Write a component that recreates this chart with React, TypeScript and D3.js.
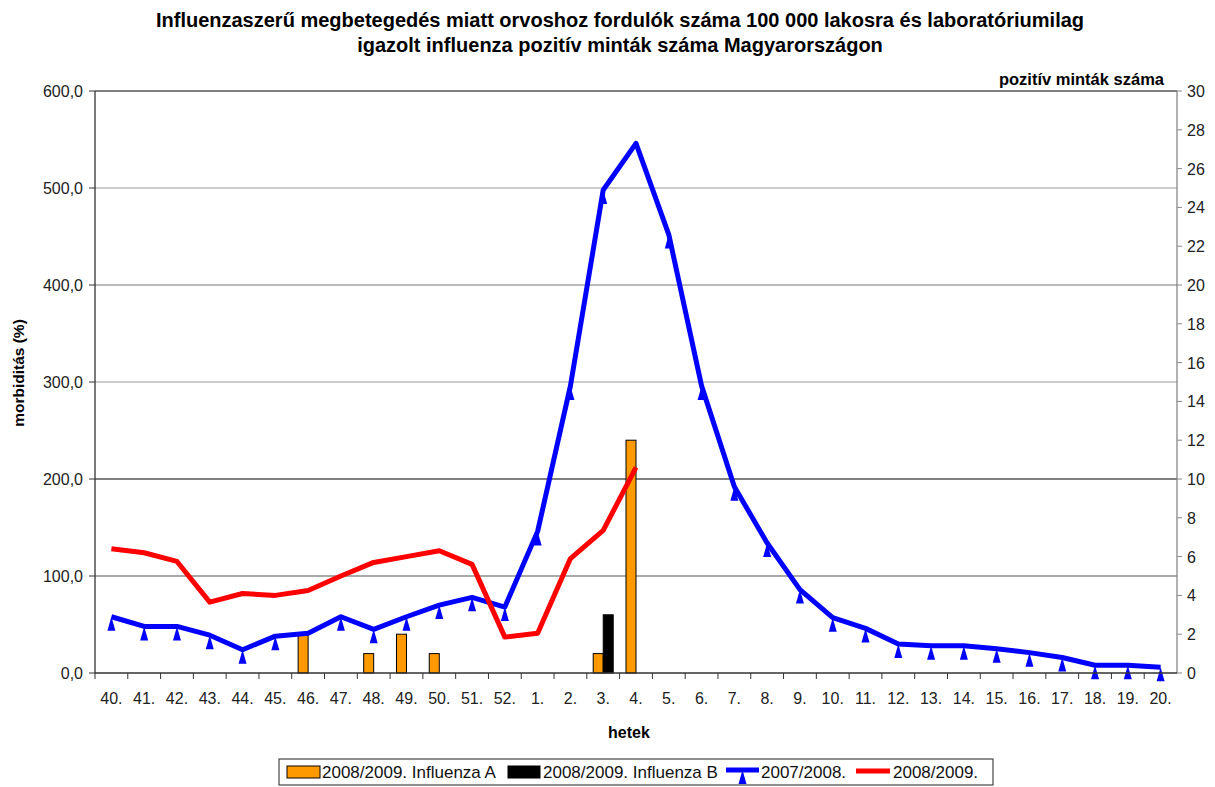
import React, { useEffect } from 'react';
import * as d3 from 'd3';

// weeks 40. .. 52., 1. .. 20.
const weeks = [
  '40.', '41.', '42.', '43.', '44.', '45.', '46.', '47.', '48.', '49.', '50.', '51.', '52.',
  '1.', '2.', '3.', '4.', '5.', '6.', '7.', '8.', '9.', '10.', '11.', '12.', '13.', '14.',
  '15.', '16.', '17.', '18.', '19.', '20.',
];

// morbidity per 100 000, season 2007/2008 (all weeks)
const morb0708 = [
  58, 48, 48, 39, 24, 38, 41, 58, 45, 58, 70, 78, 68,
  146, 296, 498, 546, 452, 296, 192, 134, 86, 57, 46, 30, 28, 28, 25, 21, 16, 8, 8, 6,
];

// morbidity 2008/2009 (weeks 40. .. 4.)
const morb0809 = [128, 124, 115, 73, 82, 80, 85, 100, 114, 120, 126, 112, 37, 41, 118, 147, 212];

// positive samples 2008/2009 (weeks 40. .. 4.)
const fluA = [0, 0, 0, 0, 0, 0, 2, 0, 1, 2, 1, 0, 0, 0, 0, 1, 12];
const fluB = [0, 0, 0, 0, 0, 0, 0, 0, 0, 0, 0, 0, 0, 0, 0, 3, 0];

// weeks where the 2007/2008 marker is not shown in the original
const hiddenMarkers = ['46.', '4.'];

const leftTicks = [0, 100, 200, 300, 400, 500, 600];
const rightTicks = d3.range(0, 31, 2);

const font = '"Liberation Sans", Arial, sans-serif';

const App = () => {
  useEffect(() => {
    document.body.style.margin = '0';
  }, []);

  const left = 95;
  const right = 1177;
  const top = 91;
  const bottom = 673;

  const x = d3.scaleBand().domain(weeks).range([left, right]);
  const bw = x.bandwidth();
  const xc = (w: string) => (x(w) as number) + bw / 2;
  const xSub = d3.scaleBand().domain(['A', 'B']).range([bw / 2 - 10, bw / 2 + 10]);

  const yL = d3.scaleLinear().domain([0, 600]).range([bottom, top]);
  const yR = d3.scaleLinear().domain([0, 30]).range([bottom, top]);

  const lineL = d3
    .line<number>()
    .x((d, i) => xc(weeks[i]))
    .y((d) => yL(d));

  const gridColor: Record<number, string> = {
    100: '#555',
    200: '#000',
    300: '#999',
    400: '#777',
    500: '#999',
    600: '#000',
  };

  const bars: { w: string; k: string; v: number }[] = [];
  fluA.forEach((v, i) => v > 0 && bars.push({ w: weeks[i], k: 'A', v }));
  fluB.forEach((v, i) => v > 0 && bars.push({ w: weeks[i], k: 'B', v }));

  return (
    <svg width={1215} height={787} style={{ display: 'block', fontFamily: font }}>
      <rect width={1215} height={787} fill="#fff" />

      {/* title */}
      <text x={620} y={27} textAnchor="middle" fontSize={20} fontWeight="bold">
        Influenzaszerű megbetegedés miatt orvoshoz fordulók száma 100 000 lakosra és laboratóriumilag
      </text>
      <text x={620} y={52} textAnchor="middle" fontSize={20} fontWeight="bold">
        igazolt influenza pozitív minták száma Magyarországon
      </text>

      {/* grid */}
      {leftTicks.filter((t) => t > 0).map((t) => (
        <line key={t} x1={left} x2={right} y1={yL(t)} y2={yL(t)} stroke={gridColor[t]} strokeWidth={1.2} />
      ))}

      {/* bars */}
      {bars.map((b, i) => (
        <rect
          key={i}
          x={(x(b.w) as number) + (xSub(b.k) as number)}
          y={yR(b.v)}
          width={xSub.bandwidth()}
          height={bottom - yR(b.v)}
          fill={b.k === 'A' ? '#FF9900' : '#000'}
          stroke="#000"
          strokeWidth={1}
        />
      ))}

      {/* 2007/2008 */}
      <path d={lineL(morb0708) as string} fill="none" stroke="#0000FF" strokeWidth={5} strokeLinejoin="round" />
      {morb0708.map((v, i) =>
        hiddenMarkers.includes(weeks[i]) ? null : (
          <path
            key={i}
            d={`M${xc(weeks[i])},${yL(v)} L${xc(weeks[i]) - 4},${yL(v) + 14} L${xc(weeks[i]) + 4},${yL(v) + 14} Z`}
            fill="#0000FF"
          />
        )
      )}

      {/* 2008/2009 */}
      <path d={lineL(morb0809) as string} fill="none" stroke="#FF0000" strokeWidth={5} strokeLinejoin="round" />

      {/* left axis */}
      <line x1={left} x2={left} y1={top} y2={bottom} stroke="#333" strokeWidth={1.3} />
      {leftTicks.map((t) => (
        <g key={t}>
          <line x1={left - 6} x2={left} y1={yL(t)} y2={yL(t)} stroke="#333" />
          <text x={83} y={yL(t) + 6} textAnchor="end" fontSize={16} fill="#222">
            {d3.format('.1f')(t).replace('.', ',')}
          </text>
        </g>
      ))}
      <text transform="translate(24,373) rotate(-90)" textAnchor="middle" fontSize={15.5} fontWeight="bold">
        morbiditás (%)
      </text>

      {/* right axis */}
      <line x1={right} x2={right} y1={top} y2={bottom} stroke="#888" strokeWidth={1.3} />
      {rightTicks.map((t) => (
        <g key={t}>
          <line x1={right} x2={right + 5} y1={yR(t)} y2={yR(t)} stroke="#888" />
          <text x={1187} y={yR(t) + 6} fontSize={16} fill="#222">
            {t}
          </text>
        </g>
      ))}
      <text x={1164} y={85} textAnchor="end" fontSize={16.5} fontWeight="bold">
        pozitív minták száma
      </text>

      {/* x axis */}
      <line x1={left} x2={right} y1={bottom} y2={bottom} stroke="#333" strokeWidth={1.3} />
      {weeks.map((w) => (
        <g key={w}>
          <line x1={x(w) as number} x2={x(w) as number} y1={bottom} y2={bottom + 6} stroke="#333" />
          <text x={xc(w)} y={704} textAnchor="middle" fontSize={16} fill="#222">
            {w}
          </text>
        </g>
      ))}
      <text x={629} y={738} textAnchor="middle" fontSize={16} fontWeight="bold">
        hetek
      </text>

      {/* legend */}
      <g fontSize={17} fill="#111">
        <rect x={279} y={759} width={714} height={26} fill="#fff" stroke="#444" strokeWidth={1.2} />
        <rect x={287} y={766} width={33} height={12} fill="#FF9900" stroke="#000" />
        <text x={322} y={778}>2008/2009. Influenza A</text>
        <rect x={508} y={766} width={32} height={12} fill="#000" stroke="#000" />
        <text x={543} y={778}>2008/2009. Influenza B</text>
        <line x1={726} x2={759} y1={770} y2={770} stroke="#0000FF" strokeWidth={5} />
        <path d="M742.5,770 L738.5,784 L746.5,784 Z" fill="#0000FF" />
        <text x={761} y={778}>2007/2008.</text>
        <line x1={856} x2={890} y1={771} y2={771} stroke="#FF0000" strokeWidth={5} />
        <text x={893} y={778}>2008/2009.</text>
      </g>
    </svg>
  );
};

export default App;
